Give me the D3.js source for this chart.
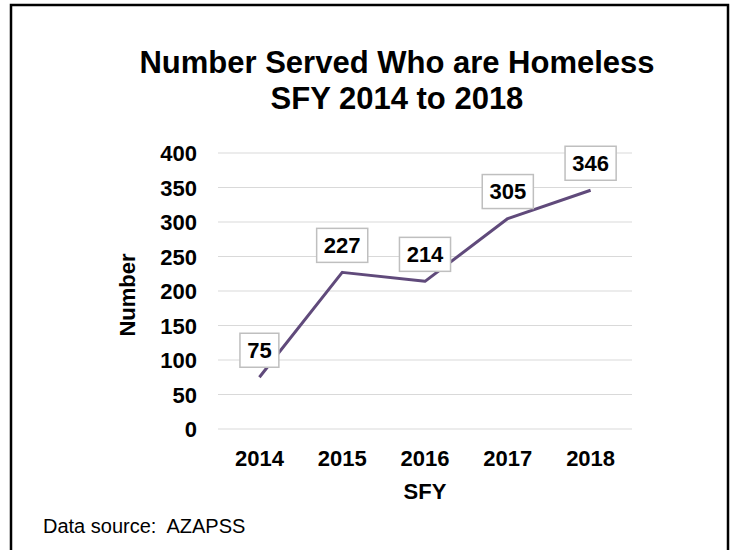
<!DOCTYPE html>
<html>
<head>
<meta charset="utf-8">
<script src="https://cdn.jsdelivr.net/npm/d3@7"></script>
<style>
  html, body { margin: 0; padding: 0; background: #fff; }
  svg { display: block; font-family: "Liberation Sans", Arial, sans-serif; }
</style>
</head>
<body>
<svg id="chart" width="732" height="550"></svg>
<script>
// Homeless clients served, by state fiscal year
const years = ["2014", "2015", "2016", "2017", "2018"];
const served = [75, 227, 214, 305, 346];
const yTicks = [0, 50, 100, 150, 200, 250, 300, 350, 400];
const titleLines = ["Number Served Who are Homeless", "SFY 2014 to 2018"];

const svg = d3.select("#chart");

// outer frame
svg.append("rect")
  .attr("x", 11).attr("y", 5).attr("width", 717).attr("height", 560)
  .attr("fill", "none").attr("stroke", "#000").attr("stroke-width", 2.5);

const plot = { left: 218, right: 632, top: 153, bottom: 429 };

const x = d3.scaleBand().domain(years).range([plot.left, plot.right]);
const y = d3.scaleLinear().domain([0, 400]).range([plot.bottom, plot.top]);

// title
svg.append("text")
  .attr("text-anchor", "middle").attr("font-weight", "bold").attr("font-size", 31)
  .selectAll("tspan").data(titleLines).join("tspan")
  .attr("x", 397).attr("y", (d, i) => 73 + i * 36).text(d => d);

// gridlines
svg.append("g").selectAll("line").data(yTicks).join("line")
  .attr("x1", plot.left).attr("x2", plot.right)
  .attr("y1", d => y(d)).attr("y2", d => y(d))
  .attr("stroke", "#d9d9d9").attr("stroke-width", 1);

// y axis labels
const yAxis = d3.axisLeft(y).tickValues(yTicks).tickSize(0).tickPadding(0);
svg.append("g").attr("transform", `translate(197,0)`).call(yAxis)
  .call(g => g.select(".domain").remove())
  .selectAll("text")
  .attr("font-family", "Liberation Sans, Arial, sans-serif")
  .attr("font-size", 22).attr("font-weight", "bold").attr("fill", "#000")
  .attr("dy", "0.36em");

// x axis labels
const xAxis = d3.axisBottom(x).tickSize(0).tickPadding(0);
svg.append("g").attr("transform", `translate(0,${plot.bottom + 21})`).call(xAxis)
  .call(g => g.select(".domain").remove())
  .selectAll("text")
  .attr("font-family", "Liberation Sans, Arial, sans-serif")
  .attr("font-size", 22).attr("font-weight", "bold").attr("fill", "#000")
  .attr("dy", "0.71em");

// axis titles
svg.append("text")
  .attr("x", 425).attr("y", 499).attr("text-anchor", "middle")
  .attr("font-size", 22).attr("font-weight", "bold").text("SFY");

svg.append("text")
  .attr("transform", "translate(135,295) rotate(-90)").attr("text-anchor", "middle")
  .attr("font-size", 22).attr("font-weight", "bold").text("Number");

// line
const line = d3.line()
  .x((d, i) => x(years[i]) + x.bandwidth() / 2)
  .y(d => y(d));

svg.append("path").datum(served)
  .attr("d", line).attr("fill", "none")
  .attr("stroke", "#604a7b").attr("stroke-width", 3).attr("stroke-linejoin", "round");

// value labels in boxes
const boxW = d => String(d).length * 12.2 + 14.5;
const labels = svg.append("g").selectAll("g").data(served).join("g")
  .attr("transform", (d, i) => `translate(${x(years[i]) + x.bandwidth() / 2},${y(d) - 27})`);

labels.append("rect")
  .attr("x", d => -boxW(d) / 2)
  .attr("width", boxW)
  .attr("y", -17).attr("height", 34)
  .attr("fill", "#fff").attr("stroke", "#bfbfbf").attr("stroke-width", 1.5);

labels.append("text")
  .attr("text-anchor", "middle").attr("dy", "0.36em")
  .attr("font-size", 22).attr("font-weight", "bold").text(d => d);

// source note
svg.append("text")
  .attr("x", 43).attr("y", 533).attr("xml:space", "preserve")
  .style("white-space", "pre")
  .attr("font-size", 20).text("Data source:  AZAPSS");
</script>
</body>
</html>
